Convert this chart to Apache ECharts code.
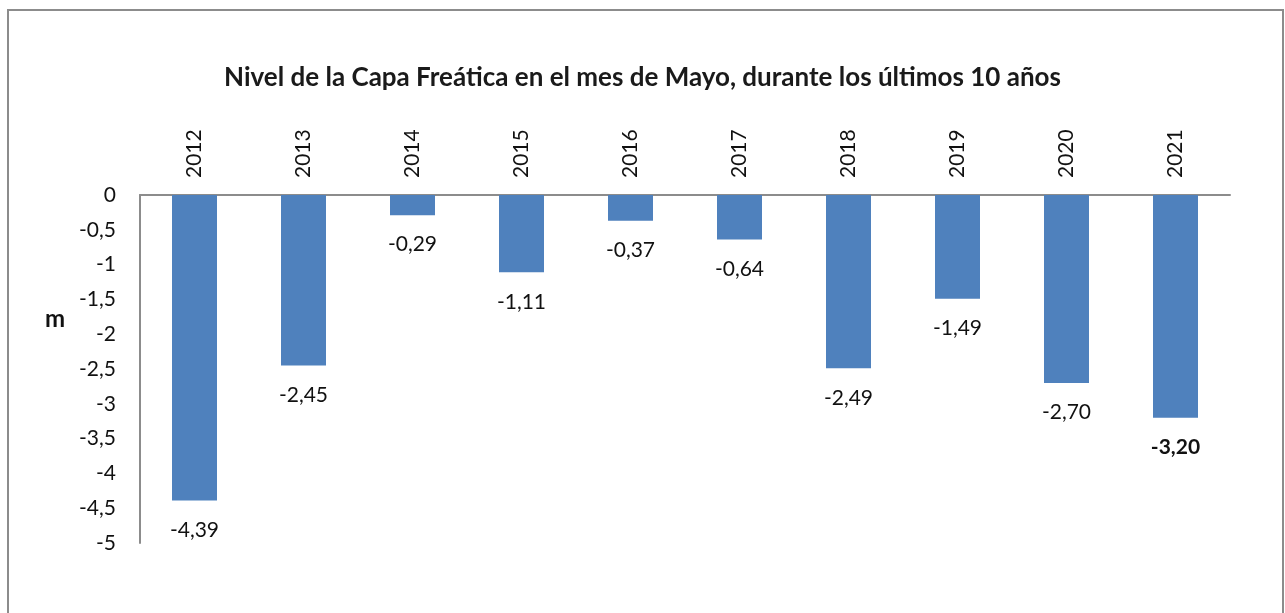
<!DOCTYPE html>
<html>
<head>
<meta charset="utf-8">
<style>
  html, body { margin: 0; padding: 0; background: #fff; }
  #chart { width: 1285px; height: 613px; }
</style>
<script src="https://cdn.jsdelivr.net/npm/echarts@6/dist/echarts.min.js"></script>
</head>
<body>
<div id="chart"></div>
<script>
const years = ['2012', '2013', '2014', '2015', '2016', '2017', '2018', '2019', '2020', '2021']
const levels = [-4.39, -2.45, -0.29, -1.11, -0.37, -0.64, -2.49, -1.49, -2.70, -3.20]
const highlightYear = '2021'

const FONT = 'Lato, "Open Sans", sans-serif'
const comma = (v, digits) => (digits == null ? String(v) : v.toFixed(digits)).replace('.', ',')

const chart = echarts.init(document.getElementById('chart'))
chart.setOption({
  animation: false,
  textStyle: { fontFamily: FONT },
  title: {
    text: 'Nivel de la Capa Freática en el mes de Mayo, durante los últimos 10 años',
    left: 'center',
    top: 60,
    textStyle: { fontSize: 26, fontWeight: 'bold', color: '#1a1a1a', fontFamily: FONT },
  },
  graphic: [
    {
      type: 'rect',
      shape: { x: 8, y: 10, width: 1275, height: 620 },
      style: { fill: 'none', stroke: '#8c8c8c', lineWidth: 2 },
      silent: true,
    },
    {
      type: 'text',
      left: 45,
      top: 307,
      style: { text: 'm', fontSize: 24, fontWeight: 'bold', fill: '#111', fontFamily: FONT },
    },
  ],
  grid: { left: 140, right: 55, top: 195, bottom: 70 },
  xAxis: {
    type: 'category',
    position: 'top',
    data: years,
    axisLine: { lineStyle: { color: '#8c8c8c', width: 2 } },
    axisTick: { show: false },
    axisLabel: { rotate: 90, margin: 17, fontSize: 21, color: '#111', fontFamily: FONT },
  },
  yAxis: {
    type: 'value',
    min: -5,
    max: 0,
    interval: 0.5,
    axisLine: { show: true, lineStyle: { color: '#8c8c8c', width: 2 } },
    axisTick: { show: false },
    splitLine: { show: false },
    axisLabel: {
      margin: 24,
      fontSize: 21,
      color: '#111',
      fontFamily: FONT,
      formatter: (v) => comma(Math.round(v * 10) / 10),
    },
  },
  series: [
    {
      type: 'bar',
      barWidth: 45,
      itemStyle: { color: '#4F81BD' },
      label: {
        show: true,
        position: 'bottom',
        distance: 19,
        fontSize: 21,
        color: '#111',
        fontFamily: FONT,
        formatter: (p) => comma(p.value, 2),
      },
      data: levels.map((v, i) =>
        years[i] === highlightYear
          ? { value: v, label: { fontWeight: 'bold' } }
          : v
      ),
    },
  ],
})
</script>
</body>
</html>
